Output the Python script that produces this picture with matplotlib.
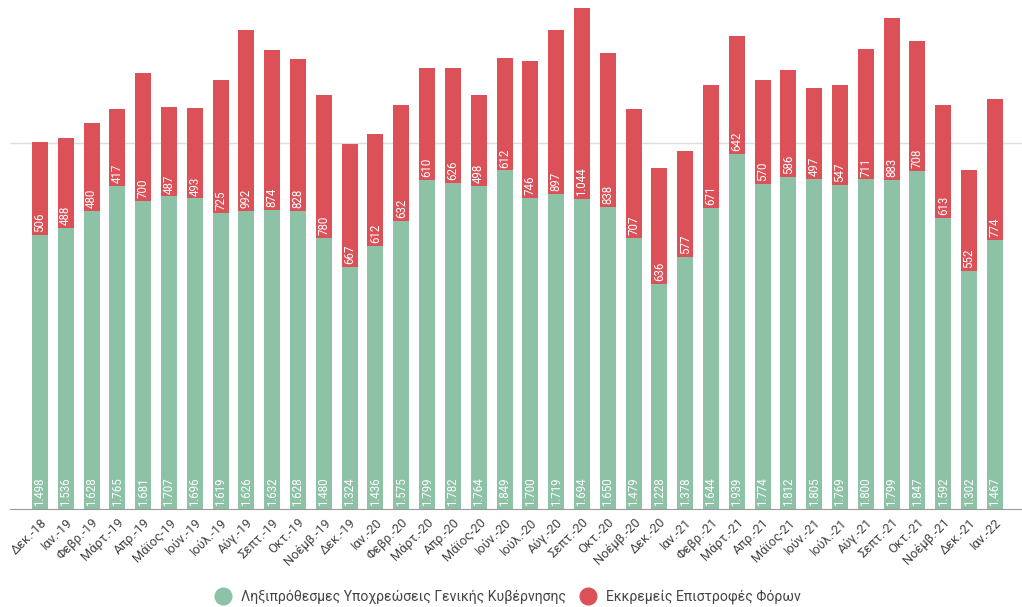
import numpy as np
import matplotlib.pyplot as plt
from matplotlib.lines import Line2D

plt.rcParams['font.family'] = ['Roboto', 'DejaVu Sans']

months = ['Δεκ.-18', 'Ιαν.-19', 'Φεβρ.-19', 'Μάρτ.-19', 'Απρ.-19', 'Μάϊος-19', 'Ιούν.-19', 'Ιούλ.-19',
          'Αύγ.-19', 'Σεπτ.-19', 'Οκτ.-19', 'Νοέμβ.-19', 'Δεκ.-19', 'Ιαν.-20', 'Φεβρ.-20', 'Μάρτ.-20',
          'Απρ.-20', 'Μάϊος-20', 'Ιούν.-20', 'Ιούλ.-20', 'Αύγ.-20', 'Σεπτ.-20', 'Οκτ.-20', 'Νοέμβ.-20',
          'Δεκ.-20', 'Ιαν.-21', 'Φεβρ.-21', 'Μάρτ.-21', 'Απρ.-21', 'Μάϊος-21', 'Ιούν.-21', 'Ιούλ.-21',
          'Αύγ.-21', 'Σεπτ.-21', 'Οκτ.-21', 'Νοέμβ.-21', 'Δεκ.-21', 'Ιαν.-22']

arrears = [1498, 1536, 1628, 1765, 1681, 1707, 1696, 1619, 1626, 1632, 1628, 1480,
           1324, 1436, 1575, 1799, 1782, 1764, 1849, 1700, 1719, 1694, 1650, 1479,
           1228, 1378, 1644, 1939, 1774, 1812, 1805, 1769, 1800, 1799, 1847, 1592,
           1302, 1467]

tax_refunds = [506, 488, 480, 417, 700, 487, 493, 725, 992, 874, 828, 780,
               667, 612, 632, 610, 626, 498, 612, 746, 897, 1044, 838, 707,
               636, 577, 671, 642, 570, 586, 497, 547, 711, 883, 708, 613,
               552, 774]

legend_labels = ['Ληξιπρόθεσμες Υποχρεώσεις Γενικής Κυβέρνησης', 'Εκκρεμείς Επιστροφές Φόρων']

GREEN = '#8DC2A6'
RED = '#DB5157'


def fmt(v):
    return f'{v:,}'.replace(',', '.')


fig = plt.figure(figsize=(10.22, 6.07), dpi=100)
ax = fig.add_axes([10 / 1022, 98 / 607, 1012 / 1022, 509 / 607])

x = np.arange(len(months))
green = np.array(arrears)
red = np.array(tax_refunds)

ax.bar(x, green, width=0.62, color=GREEN, zorder=2)
ax.bar(x, red, width=0.62, bottom=green, color=RED, zorder=2)

for i in range(len(x)):
    ax.text(x[i], 16, fmt(green[i]), rotation=90, ha='center', va='bottom',
            color='white', fontsize=8.3, zorder=3)
    ax.text(x[i], green[i] + 16, fmt(red[i]), rotation=90, ha='center', va='bottom',
            color='white', fontsize=8.3, zorder=3)

ax.set_xlim(-1.16, 38.05)
ax.set_ylim(0, 2780)
ax.set_yticks([2000])
ax.yaxis.grid(True, color='#DDDDDD', linewidth=1, zorder=0)
ax.tick_params(axis='y', length=0, labelleft=False)
ax.set_xticks(x)
ax.set_xticklabels(months, rotation=45, ha='right', rotation_mode='anchor',
                   fontsize=9.3, color='#444444')
ax.tick_params(axis='x', length=0, pad=5)

for s in ['top', 'right', 'left']:
    ax.spines[s].set_visible(False)
ax.spines['bottom'].set_color('#999999')

handles = [Line2D([], [], marker='o', linestyle='', markersize=12, color=GREEN),
           Line2D([], [], marker='o', linestyle='', markersize=12, color=RED)]
fig.legend(handles, legend_labels, loc='center', bbox_to_anchor=(0.494, 0.017), ncol=2,
           frameon=False, fontsize=10.1, handletextpad=0.3, columnspacing=0.6,
           labelcolor='#444444')

fig.savefig('out.png', dpi=100)
